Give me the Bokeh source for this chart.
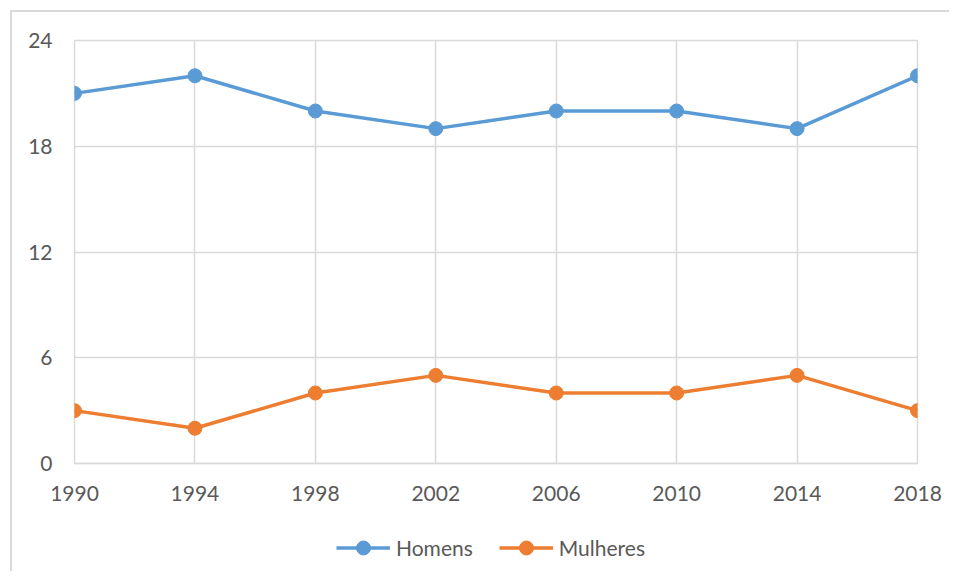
from bokeh.plotting import figure
from bokeh.layouts import column
from bokeh.models import FixedTicker, Range1d, Legend, LegendItem
from bokeh.embed import file_html
from bokeh.resources import INLINE

years = [1990, 1994, 1998, 2002, 2006, 2010, 2014, 2018]
homens = [21, 22, 20, 19, 20, 20, 19, 22]
mulheres = [3, 2, 4, 5, 4, 4, 5, 3]
y_ticks = [0, 6, 12, 18, 24]
series_names = ["Homens", "Mulheres"]

BLUE = "#5b9bd5"
ORANGE = "#ed7d31"
GRID = "#d9d9d9"
TEXT = "#595959"
FONT = "Lato"

p = figure(width=949, height=517, output_backend="svg", toolbar_location=None,
           x_range=Range1d(years[0], years[-1]), y_range=Range1d(y_ticks[0], y_ticks[-1]),
           min_border_left=74, min_border_right=32, min_border_top=40, min_border_bottom=54)

p.outline_line_color = GRID
p.outline_line_width = 1.5
p.background_fill_color = "white"
p.border_fill_color = None

p.xaxis.ticker = FixedTicker(ticks=years)
p.yaxis.ticker = FixedTicker(ticks=y_ticks)
for ax in (p.xaxis[0], p.yaxis[0]):
    ax.major_tick_line_color = None
    ax.minor_tick_line_color = None
    ax.major_tick_out = 0
    ax.major_tick_in = 0
    ax.minor_tick_out = 0
    ax.major_label_text_font = FONT
    ax.major_label_text_font_size = "21px"
    ax.major_label_text_color = TEXT
p.yaxis.axis_line_color = None
p.xaxis.axis_line_color = GRID
p.xaxis.axis_line_width = 1.5
p.yaxis.major_label_standoff = 22
p.xaxis.major_label_standoff = 22

p.xgrid.ticker = FixedTicker(ticks=years)
p.ygrid.ticker = FixedTicker(ticks=y_ticks)
p.xgrid.grid_line_color = GRID
p.ygrid.grid_line_color = GRID
p.xgrid.grid_line_width = 1.5
p.ygrid.grid_line_width = 1.5

p.line(years, homens, line_color=BLUE, line_width=3.5)
p.scatter(years, homens, size=14, fill_color=BLUE, line_color=BLUE)
p.line(years, mulheres, line_color=ORANGE, line_width=3.5)
p.scatter(years, mulheres, size=14, fill_color=ORANGE, line_color=ORANGE)

# legend strip below the chart
q = figure(width=949, height=54, output_backend="svg", toolbar_location=None,
           x_axis_location=None, y_axis_location=None,
           min_border_left=0, min_border_right=0, min_border_top=0, min_border_bottom=0)
q.outline_line_color = None
q.background_fill_color = None
q.border_fill_color = None
q.grid.visible = False
l1 = q.line(years, homens, line_color=BLUE, line_width=3.5, visible=False)
s1 = q.scatter(years, homens, size=14, fill_color=BLUE, line_color=BLUE, visible=False)
l2 = q.line(years, mulheres, line_color=ORANGE, line_width=3.5, visible=False)
s2 = q.scatter(years, mulheres, size=14, fill_color=ORANGE, line_color=ORANGE, visible=False)

legend = Legend(items=[LegendItem(label=series_names[0], renderers=[l1, s1]),
                       LegendItem(label=series_names[1], renderers=[l2, s2])],
                location=(262, 6), orientation="horizontal",
                border_line_color=None, background_fill_alpha=0,
                inactive_fill_alpha=0,
                padding=0, margin=0, spacing=26,
                glyph_width=54, glyph_height=35, label_height=35,
                label_text_font=FONT, label_text_font_size="21px",
                label_text_color=TEXT, label_standoff=6)
q.add_layout(legend, "center")

layout = column(p, q, spacing=0)
g = "linear-gradient(#d9d9d9, #d9d9d9)"
layout.styles = {
    "background": f"{g} 10px 10px / 2px 100% no-repeat, {g} 10px 10px / 100% 2px no-repeat, white",
}

open("out.html", "w").write(file_html(layout, INLINE))
